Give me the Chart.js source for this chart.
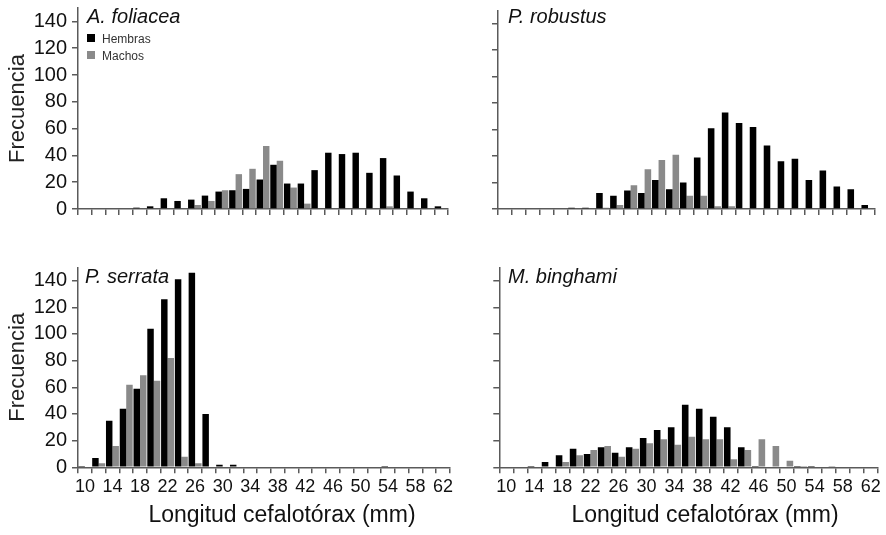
<!DOCTYPE html>
<html><head><meta charset="utf-8">
<script src="https://cdn.jsdelivr.net/npm/chart.js@4.4.1/dist/chart.umd.min.js"></script>
<style>
html,body{margin:0;padding:0;background:#fff;}
body{width:886px;height:535px;position:relative;overflow:hidden;font-family:"Liberation Sans",Arial,sans-serif;}
canvas{position:absolute;}
.t{position:absolute;white-space:nowrap;line-height:1;color:#111;}
.sp{font-style:italic;font-size:20px;}
.lg{font-size:12px;color:#333;}
.sw{position:absolute;width:8px;height:8px;}
.xt{position:absolute;width:400px;text-align:center;font-size:23px;line-height:1;color:#111;}
</style></head><body>
<canvas id="c1" width="450" height="235" style="left:0;top:0"></canvas>
<canvas id="c2" width="436" height="235" style="left:450px;top:0"></canvas>
<canvas id="c3" width="470" height="285" style="left:0;top:250px"></canvas>
<canvas id="c4" width="436" height="285" style="left:450px;top:250px"></canvas>

<div class="t sp" style="left:87px;top:6px">A. foliacea</div>
<div class="t sp" style="left:508px;top:6px">P. robustus</div>
<div class="t sp" style="left:85px;top:266px">P. serrata</div>
<div class="t sp" style="left:508px;top:266px">M. binghami</div>

<div class="sw" style="left:87px;top:34px;background:#000"></div>
<div class="t lg" style="left:102px;top:33px">Hembras</div>
<div class="sw" style="left:87px;top:51px;background:#8a8a8a"></div>
<div class="t lg" style="left:102px;top:50px">Machos</div>

<div class="xt" style="left:82px;top:503px">Longitud cefalotórax (mm)</div>
<div class="xt" style="left:505px;top:503px">Longitud cefalotórax (mm)</div>

<script>
const categories = [10,12,14,16,18,20,22,24,26,28,30,32,34,36,38,40,42,44,46,48,50,52,54,56,58,60,62];
const xTickLabels = ['10','14','18','22','26','30','34','38','42','46','50','54','58','62'];
const yTickValues = [0,20,40,60,80,100,120,140];

const foliaceaHembras = [0,0,0,0,1,2,8,6,7,10,13,14,15,22,33,19,19,29,42,41,42,27,38,25,13,8,2];
const foliaceaMachos  = [0,0,0,0,0,0,0,0,3,6,14,26,30,47,36,16,4,0,0,0,0,0,2,0,0,0,0];

const robustusHembras = [0,0,0,0,0,1,1,12,10,14,12,22,15,20,39,61,73,65,62,48,36,38,22,29,17,15,3];
const robustusMachos  = [0,0,0,0,0,0,0,1,3,18,30,37,41,10,10,2,2,0,0,0,0,0,0,0,0,0,0];

const serrataHembras = [1,7,35,44,59,104,126,141,146,40,2,2,0,0,0,0,0,0,0,0,0,0,1,0,0,0,0];
const serrataMachos  = [0,3,16,62,69,65,82,8,3,0,0,0,0,0,0,0,0,0,0,0,0,0,0,0,0,0,0];

const binghamiHembras = [0,0,1,4,9,14,10,15,11,15,22,28,30,47,44,38,30,15,1,0,0,1,1,0,0,0,0];
const binghamiMachos  = [0,0,0,0,4,9,13,16,8,14,18,21,17,23,21,21,6,13,21,16,5,1,0,1,0,0,0];

const FONT = '"Liberation Sans", Arial, sans-serif';
const AXIS = '#5a5a5a';

function makePanel(id, hembras, machos, o) {
  new Chart(document.getElementById(id), {
    type: 'bar',
    data: {
      labels: categories.map(String),
      datasets: [
        {label: 'Hembras', data: hembras, backgroundColor: '#000000', borderWidth: 0, categoryPercentage: 0.94, barPercentage: 1},
        {label: 'Machos', data: machos, backgroundColor: '#8a8a8a', borderWidth: 0, categoryPercentage: 0.94, barPercentage: 1}
      ]
    },
    options: {
      responsive: false, animation: false, devicePixelRatio: 1,
      layout: {padding: o.padding},
      plugins: {legend: {display: false}, tooltip: {enabled: false}},
      scales: {
        x: {
          grid: {display: true, drawOnChartArea: false, drawTicks: true, tickLength: 6, color: AXIS, lineWidth: 1.5, offset: true},
          border: {display: true, color: AXIS, width: 1.5},
          ticks: {autoSkip: false, maxRotation: 0, minRotation: 0, padding: 3, color: '#111',
                  font: {family: FONT, size: 18},
                  callback: (v, i) => (o.xLabels && i % 2 === 0) ? xTickLabels[i / 2] : ''},
          afterFit: (s) => { s.height = o.xHeight; s.paddingLeft = 0; s.paddingRight = 0; }
        },
        y: {
          min: 0, max: 150,
          afterBuildTicks: (s) => { s.ticks = yTickValues.map(v => ({value: v})); },
          grid: {drawOnChartArea: false, drawTicks: true, tickLength: 6, color: AXIS, lineWidth: 1.5},
          border: {display: true, color: AXIS, width: 1.5},
          ticks: {padding: 5, color: '#111', font: {family: FONT, size: 20},
                  callback: (v) => o.yLabels ? String(v) : ''},
          title: {display: o.yTitle, text: 'Frecuencia', color: '#222', font: {family: FONT, size: 22}, padding: {top: 5, bottom: 0}},
          afterFit: (s) => { s.width = o.yWidth; s.paddingTop = 0; s.paddingBottom = 0; }
        }
      }
    }
  });
}

makePanel('c1', foliaceaHembras, foliaceaMachos, {padding: {top: 8, right: 2, left: 0, bottom: 0}, yWidth: 78, xHeight: 26, xLabels: false, yLabels: true, yTitle: true});
makePanel('c2', robustusHembras, robustusMachos, {padding: {top: 10.5, right: 11, left: 0, bottom: 0}, yWidth: 48, xHeight: 26, xLabels: false, yLabels: false, yTitle: false});
makePanel('c3', serrataHembras, serrataMachos, {padding: {top: 17.3, right: 20, left: 0, bottom: 0}, yWidth: 78, xHeight: 67.7, xLabels: true, yLabels: true, yTitle: true});
makePanel('c4', binghamiHembras, binghamiMachos, {padding: {top: 17.3, right: 8.3, left: 0, bottom: 0}, yWidth: 49.3, xHeight: 67.7, xLabels: true, yLabels: false, yTitle: false});
</script>
</body></html>
